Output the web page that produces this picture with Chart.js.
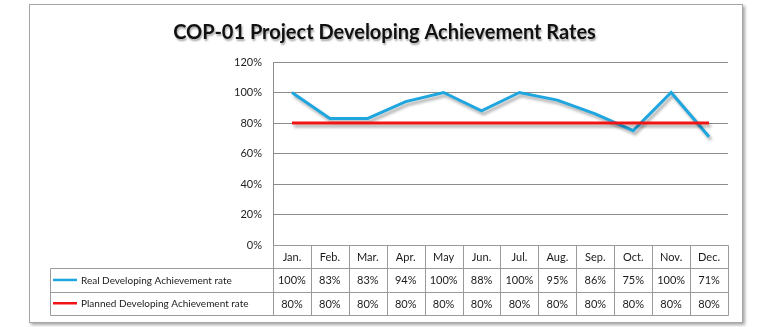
<!DOCTYPE html>
<html><head><meta charset="utf-8">
<script src="https://cdn.jsdelivr.net/npm/chart.js@4.4.1/dist/chart.umd.min.js"></script>
<style>
html,body{margin:0;padding:0;background:#fff;}
#wrap{position:relative;width:777px;height:327px;overflow:hidden;background:#fff;}
#frame{position:absolute;left:29px;top:4px;width:712px;height:317px;border:1px solid #a6a6a6;box-shadow:2px 2px 3px rgba(0,0,0,0.35);background:#fff;}
canvas{position:absolute;left:0;top:0;}
</style></head><body>
<div id="wrap"><div id="frame"></div><canvas id="c" width="777" height="327"></canvas></div>
<script>
const titleText = 'COP-01 Project Developing Achievement Rates';
const months = ['Jan.','Feb.','Mar.','Apr.','May','Jun.','Jul.','Aug.','Sep.','Oct.','Nov.','Dec.'];
const realRate = [100,83,83,94,100,88,100,95,86,75,100,71];
const plannedRate = [80,80,80,80,80,80,80,80,80,80,80,80];
const seriesNames = ['Real Developing Achievement rate','Planned Developing Achievement rate'];
const seriesColors = ['#1fa6df','#f01414'];
const yTickValues = [0,20,40,60,80,100,120];

const FONT = 'Lato';
const TEXT = '#1a1a1a';
const LINE = '#9a9a9a';

const lineShadow = {
  id:'lineShadow',
  beforeDatasetDraw(chart){ const ctx=chart.ctx; ctx.save(); ctx.shadowColor='rgba(0,0,0,0.32)'; ctx.shadowBlur=3; ctx.shadowOffsetX=2; ctx.shadowOffsetY=3; },
  afterDatasetDraw(chart){ chart.ctx.restore(); }
};

const titleShadow = {
  id:'titleShadow',
  beforeDraw(chart){
    const tb = chart.titleBlock;
    if (tb && !tb._patched){
      const orig = tb.draw;
      tb.draw = function(...a){ const ctx=this.ctx; ctx.save(); ctx.shadowColor='rgba(0,0,0,0.35)'; ctx.shadowBlur=2; ctx.shadowOffsetX=1; ctx.shadowOffsetY=2; orig.apply(this,a); ctx.restore(); };
      tb._patched = true;
    }
  }
};

const dataTable = {
  id:'dataTable',
  afterDraw(chart){
    const ctx = chart.ctx, x = chart.scales.x, area = chart.chartArea;
    const n = months.length;
    const colW = (x.right - x.left) / n;
    const rowH = 23.3;
    const top = area.bottom;
    const tableLeft = 50;
    const rows = [top, top+rowH, top+2*rowH, top+3*rowH];
    const px = v => Math.round(v) + 0.5;
    ctx.save();
    ctx.strokeStyle = LINE; ctx.lineWidth = 1;
    ctx.beginPath();
    ctx.moveTo(px(x.left), px(rows[0])); ctx.lineTo(px(x.right), px(rows[0]));
    for (let r = 1; r < 4; r++){ ctx.moveTo(px(tableLeft), px(rows[r])); ctx.lineTo(px(x.right), px(rows[r])); }
    for (let i = 0; i <= n; i++){
      const bx = x.getPixelForValue(Math.min(i, n-1)) + (i === n ? colW/2 : -colW/2);
      ctx.moveTo(px(bx), px(rows[0])); ctx.lineTo(px(bx), px(rows[3]));
    }
    ctx.moveTo(px(tableLeft), px(rows[1])); ctx.lineTo(px(tableLeft), px(rows[3]));
    ctx.stroke();

    ctx.fillStyle = TEXT;
    ctx.textAlign = 'center'; ctx.textBaseline = 'middle';
    ctx.font = '11px ' + FONT;
    const series = [realRate, plannedRate];
    months.forEach((m, i) => {
      const cx = x.getPixelForValue(i);
      ctx.fillText(m, cx, rows[0] + rowH/2 + 1);
      series.forEach((s, r) => ctx.fillText(s[i] + '%', cx, rows[r+1] + rowH/2 + 1));
    });
    ctx.textAlign = 'left';
    ctx.font = '10px ' + FONT;
    seriesNames.forEach((name, r) => {
      const cy = rows[r+1] + rowH/2;
      ctx.strokeStyle = seriesColors[r]; ctx.lineWidth = 2.5;
      ctx.beginPath(); ctx.moveTo(53, cy); ctx.lineTo(77, cy); ctx.stroke();
      ctx.fillText(name, 81, cy + 1);
    });
    ctx.restore();
  }
};

function build(){
  new Chart(document.getElementById('c'), {
    type:'line',
    data:{
      labels: months,
      datasets:[
        {label: seriesNames[0], data: realRate, borderColor: seriesColors[0], borderWidth: 3, pointRadius: 0, tension: 0, order: 1},
        {label: seriesNames[1], data: plannedRate, borderColor: seriesColors[1], borderWidth: 3, pointRadius: 0, tension: 0, order: 0}
      ]
    },
    options:{
      responsive:false, animation:false, devicePixelRatio:1,
      layout:{ padding:{ left:0, right:8, top:0, bottom:82 } },
      plugins:{
        legend:{ display:false }, tooltip:{ enabled:false },
        title:{ display:true, text:titleText, color:'#111', font:{ family:FONT, size:20, weight:'bold', lineHeight:1.2 }, padding:{ top:21, bottom:17 } }
      },
      scales:{
        x:{ display:false, offset:true },
        y:{
          min:0, max:120,
          afterBuildTicks(s){ s.ticks = yTickValues.map(v => ({value:v})); },
          afterFit(s){ s.width = 273; },
          ticks:{ padding:11, color:'#1f1f1f', font:{ family:FONT, size:11 }, callback: v => v + '%' },
          grid:{ color:'#8c8c8c', lineWidth:1, drawTicks:false },
          border:{ display:true, color:'#8c8c8c', width:1 }
        },
        y2:{
          position:'right', display:true,
          afterFit(s){ s.width = 41; },
          ticks:{ display:false }, grid:{ display:false }, border:{ display:false }
        }
      }
    },
    plugins:[lineShadow, titleShadow, dataTable]
  });
}
Promise.all([document.fonts.load('11px Lato'), document.fonts.load('bold 20px Lato')]).then(build, build);
</script>
</body></html>
